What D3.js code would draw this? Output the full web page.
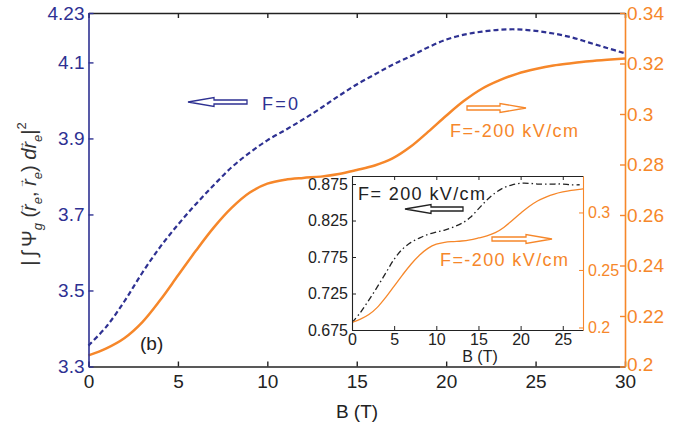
<!DOCTYPE html>
<html><head><meta charset="utf-8">
<script src="https://cdn.jsdelivr.net/npm/d3@7"></script>
<style>
body{margin:0;background:#fff}
svg{display:block}
text{font-family:"Liberation Sans",Arial,Helvetica,sans-serif}
</style></head><body>
<svg id="c" width="697" height="429"></svg>
<script>
// ---------- data ----------
const bField = [0,1,2,3,4,5,6,7,8,9,10,11,12,13,14,15,16,17,18,19,20,21,22,23,24,25,26,27,28,29,30];
// F = 0 (left axis, blue dashed)
const noField = [3.355,3.405,3.471,3.546,3.614,3.673,3.727,3.777,3.824,3.862,3.895,3.922,3.950,3.980,4.012,4.042,
                 4.068,4.094,4.116,4.140,4.160,4.173,4.181,4.186,4.187,4.183,4.176,4.166,4.152,4.138,4.124];
// F = -200 kV/cm (right axis, orange)
const negField = [0.2044,0.2072,0.2112,0.2175,0.2262,0.2360,0.2458,0.2550,0.2628,0.2688,0.2724,0.2740,0.2747,0.2752,
                  0.2762,0.2778,0.2796,0.2824,0.2870,0.2930,0.2993,0.3052,0.3100,0.3134,0.3160,0.3178,0.3192,0.3201,
                  0.3209,0.3215,0.3220];
// inset: F = 200 kV/cm (inset left axis, black dash-dot)
const insetB = [0,1,2,3,4,5,6,7,8,9,10,11,12,13,14,15,16,17,18,19,20,21,22,23,24,25,26,27];
const posField = [0.685,0.699,0.716,0.734,0.753,0.772,0.786,0.795,0.801,0.806,0.809,0.812,0.816,0.821,0.829,0.841,
                  0.853,0.863,0.870,0.874,0.876,0.876,0.875,0.875,0.875,0.875,0.874,0.874];

const xTicks = [0,5,10,15,20,25,30];
const leftTicks = [3.3,3.5,3.7,3.9,4.1,4.23];
const rightTicks = [0.2,0.22,0.24,0.26,0.28,0.3,0.32,0.34];
const insetXTicks = [0,5,10,15,20,25];
const insetLeftTicks = [0.675,0.725,0.775,0.825,0.875];
const insetRightTicks = [0.2,0.25,0.3];

const BLUE = "#2e3192", ORANGE = "#f6872a", BLACK = "#222";

// ---------- main chart ----------
const svg = d3.select("#c");
const L = 88.5, R = 625, T = 13, Bm = 366.5;
const x = d3.scaleLinear([0,30],[L,R]);
const yL = d3.scaleLinear([3.3,4.23],[Bm,T]);
const yR = d3.scaleLinear([0.2,0.34],[Bm,T]);

const curve = d3.curveCatmullRom.alpha(0.5);
const lineBlue = d3.line().x((d,i)=>x(bField[i])).y(d=>yL(d)).curve(curve);
const lineOrange = d3.line().x((d,i)=>x(bField[i])).y(d=>yR(d)).curve(curve);

svg.append("path").attr("d", lineBlue(noField)).attr("fill","none")
  .attr("stroke",BLUE).attr("stroke-width",2.2).attr("stroke-dasharray","5,3");
svg.append("path").attr("d", lineOrange(negField)).attr("fill","none")
  .attr("stroke",ORANGE).attr("stroke-width",2.5);

function styleAxis(g, color, fs){
  g.select(".domain").attr("stroke",color).attr("stroke-width",1.6);
  g.selectAll(".tick line").attr("stroke",color).attr("stroke-width",1.4);
  g.selectAll(".tick text").attr("fill",color).attr("font-size",fs)
    .attr("font-family",'"Liberation Sans",Arial,sans-serif');
}
const gB = svg.append("g").attr("transform",`translate(0,${Bm})`)
  .call(d3.axisBottom(x).tickValues(xTicks).tickSize(-5).tickSizeOuter(0).tickPadding(8.5).tickFormat(d3.format("d")));
styleAxis(gB, BLACK, 19);
const gT = svg.append("g").attr("transform",`translate(0,${T})`)
  .call(d3.axisTop(x).tickValues(xTicks).tickSize(-5).tickSizeOuter(0).tickFormat(""));
styleAxis(gT, BLACK, 19);
const gL = svg.append("g").attr("transform",`translate(${L},0)`)
  .call(d3.axisLeft(yL).tickValues(leftTicks).tickSize(-5).tickSizeOuter(0).tickPadding(4).tickFormat(d=>String(d)));
styleAxis(gL, BLUE, 19);
const gR = svg.append("g").attr("transform",`translate(${R},0)`)
  .call(d3.axisRight(yR).tickValues(rightTicks).tickSize(-5).tickSizeOuter(0).tickPadding(2).tickFormat(d=>String(d)));
styleAxis(gR, ORANGE, 19);
gR.selectAll(".tick text").filter(d=>d===0.2).attr("dy","0.2em");

// x label
svg.append("text").attr("x",357).attr("y",418).attr("text-anchor","middle")
  .attr("font-size",19).attr("fill",BLACK).text("B (T)");

// y label (math)
const yl = svg.append("text").attr("transform","translate(36,194) rotate(-90)")
  .attr("text-anchor","middle").attr("fill","#333")
  .attr("font-family",'"DejaVu Serif","Liberation Serif",serif').attr("font-size",20);
function piece(t, o){ const s = yl.append("tspan").text(t);
  if(o) for(const k in o) s.attr(k,o[k]); return s; }
function vecR(){
  piece("r",{"font-style":"italic"});
  piece("\u2192",{"font-size":10,dx:-9,dy:-12,"font-style":"normal"});
  piece("e",{"font-size":13,"font-style":"italic",dy:18,dx:-1});
}
piece("|\u2009\u222B\u2009");
piece("\u03A8");
piece("g",{"font-size":13,"font-style":"italic",dy:6});
piece(" (",{dy:-6});
vecR();
piece(", ",{dy:-6});
vecR();
piece(") ",{dy:-6});
piece("d",{"font-style":"italic"});
vecR();
piece("|",{dy:-6});
piece("2",{"font-size":13,dy:-10});

// annotations
function hollowArrow(tail, tip, y, color){
  const dir = tip < tail ? -1 : 1;
  const headLen = 26, hs = 2, hh = 4.5;
  const base = tip - dir*headLen;
  const pts = [[tail,y-hs],[base,y-hs],[base,y-hh],[tip,y],[base,y+hh],[base,y+hs],[tail,y+hs]];
  svg.append("polygon").attr("points",pts.map(p=>p.join(",")).join(" "))
    .attr("fill","#fff").attr("stroke",color).attr("stroke-width",1.3);
}
hollowArrow(247,188,102,BLUE);
svg.append("text").attr("x",262).attr("y",110).attr("font-size",18).attr("fill",BLUE)
  .attr("textLength",36).attr("lengthAdjust","spacing").text("F=0");
hollowArrow(467,526,108,ORANGE);
svg.append("text").attr("x",450).attr("y",136.5).attr("font-size",18).attr("fill",ORANGE)
  .attr("textLength",128).attr("lengthAdjust","spacing").text("F=-200 kV/cm");
svg.append("text").attr("x",140).attr("y",350).attr("font-size",19).attr("fill",BLACK).text("(b)");

// ---------- inset ----------
const iL = 352, iR = 583, iT = 176, iBt = 330;
const ix = d3.scaleLinear([0,27.4],[iL,iR]);
const iyL = d3.scaleLinear([0.675,0.886],[iBt,iT]);
const iyR = d3.scaleLinear([0.1978,0.3317],[iBt,iT]);

svg.append("rect").attr("x",iL).attr("y",iT).attr("width",iR-iL).attr("height",iBt-iT).attr("fill","#fff");
svg.append("clipPath").attr("id","ic").append("rect")
  .attr("x",iL).attr("y",iT).attr("width",iR-iL).attr("height",iBt-iT);
const ig = svg.append("g").attr("clip-path","url(#ic)");
ig.append("path").attr("d", d3.line().x((d,i)=>ix(insetB[i])).y(d=>iyL(d)).curve(curve)(posField))
  .attr("fill","none").attr("stroke",BLACK).attr("stroke-width",1.3).attr("stroke-dasharray","6,3,1.5,3");
ig.append("path").attr("d", d3.line().x((d,i)=>ix(bField[i])).y(d=>iyR(d)).curve(curve)(negField))
  .attr("fill","none").attr("stroke",ORANGE).attr("stroke-width",1.3);

function styleInset(g,color,fs){
  g.select(".domain").attr("stroke",color).attr("stroke-width",1.1);
  g.selectAll(".tick line").attr("stroke",color).attr("stroke-width",1);
  g.selectAll(".tick text").attr("fill",color).attr("font-size",fs)
    .attr("font-family",'"Liberation Sans",Arial,sans-serif');
}
const igB = svg.append("g").attr("transform",`translate(0,${iBt})`)
  .call(d3.axisBottom(ix).tickValues(insetXTicks).tickSize(-4).tickSizeOuter(0).tickPadding(4).tickFormat(d3.format("d")));
styleInset(igB,BLACK,16);
const igT = svg.append("g").attr("transform",`translate(0,${iT})`)
  .call(d3.axisTop(ix).tickValues(insetXTicks).tickSize(-4).tickSizeOuter(0).tickFormat(""));
styleInset(igT,BLACK,16);
const igL = svg.append("g").attr("transform",`translate(${iL},0)`)
  .call(d3.axisLeft(iyL).tickValues(insetLeftTicks).tickSize(-4).tickSizeOuter(0).tickPadding(4).tickFormat(d3.format(".3f")));
styleInset(igL,BLACK,16);
const igR = svg.append("g").attr("transform",`translate(${iR},0)`)
  .call(d3.axisRight(iyR).tickValues(insetRightTicks).tickSize(-4).tickSizeOuter(0).tickPadding(5).tickFormat(d=>String(d)));
styleInset(igR,ORANGE,16);

svg.append("text").attr("x",480).attr("y",362).attr("text-anchor","middle")
  .attr("font-size",16).attr("fill",BLACK).text("B (T)");
hollowArrow(463,405,209,BLACK);
svg.append("text").attr("x",358).attr("y",200).attr("font-size",18).attr("fill",BLACK)
  .attr("textLength",127).attr("lengthAdjust","spacing").text("F= 200 kV/cm");
hollowArrow(492,552,239,ORANGE);
svg.append("text").attr("x",440).attr("y",266).attr("font-size",18).attr("fill",ORANGE)
  .attr("textLength",128).attr("lengthAdjust","spacing").text("F=-200 kV/cm");
</script>
</body></html>
